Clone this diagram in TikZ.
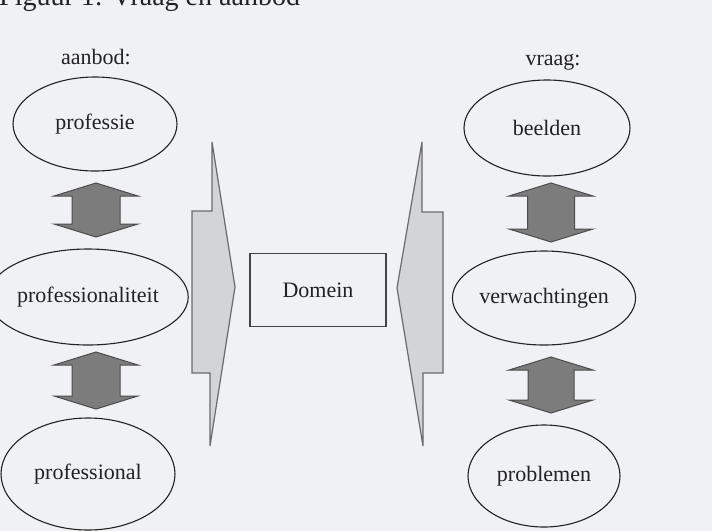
\documentclass[tikz,border=0pt]{standalone}
\usepackage{fontspec}
\setmainfont{Liberation Serif}
\usetikzlibrary{shapes.geometric}

\definecolor{paper}{HTML}{F0F1F4}
\definecolor{ink}{HTML}{222222}
\definecolor{darkfill}{HTML}{7C7C7C}
\definecolor{darkedge}{HTML}{4C4C4C}
\definecolor{lightfill}{HTML}{D3D4D6}
\definecolor{lightedge}{HTML}{6A6A6A}

% vertical double-headed block arrow: centre x, top tip y, bottom tip y, half shaft width
\newcommand\dblarrow[4]{%
  \filldraw[dblarr] (#1,#2) -- (#1+42,#2+13) -- (#1+#4,#2+13) -- (#1+#4,#3-13)
    -- (#1+42,#3-13) -- (#1,#3) -- (#1-42,#3-13) -- (#1-#4,#3-13)
    -- (#1-#4,#2+13) -- (#1-42,#2+13) -- cycle;}

\begin{document}
\begin{tikzpicture}[x=1pt,y=-1pt,
  lbl/.style={font=\fontsize{22}{26}\selectfont, text=ink},
  oval/.style={ellipse, draw=ink, line width=1.1pt, inner sep=0pt, lbl},
  dblarr/.style={fill=darkfill, draw=darkedge, line width=1pt, line join=miter},
  spike/.style={fill=lightfill, draw=lightedge, line width=1.2pt, line join=miter},
  domainbox/.style={rectangle, draw=ink!85, line width=1.1pt,
    minimum width=136pt, minimum height=73pt, lbl}]

\fill[paper] (0,0) rectangle (712,531);
\useasboundingbox (0,0) rectangle (712,531);

% caption, cut off by the top edge
\node[anchor=base west, font=\fontsize{28}{32}\selectfont, text=ink, inner sep=0pt]
  (caption) at (-1,5) {Figuur 1: Vraag en aanbod};

% column headings
\node[lbl] (aanbod) at (96,57) {aanbod:};
\node[lbl] (vraag) at (553,62) {vraag:};

% supply side
\node[oval, minimum width=164pt, minimum height=94pt] (professie) at (95,124) {professie};
\node[oval, minimum width=174pt, minimum height=96pt] (professionaliteit) at (88,297) {professionaliteit};
\node[oval, minimum width=174pt, minimum height=112pt] (professional) at (88,474) {professional};

% demand side
\node[oval, minimum width=166pt, minimum height=96pt] (beelden) at (547,128) {beelden};
\node[oval, minimum width=152pt, minimum height=94pt] (verwachtingen) at (544,298) {verwachtingen};
\node[oval, minimum width=152pt, minimum height=102pt] (problemen) at (544,476) {problemen};

% double arrows between the ovals
\dblarrow{96}{183}{237}{24}
\dblarrow{96}{352}{409}{24}
\dblarrow{551}{183}{242}{23.5}
\dblarrow{551}{357}{413}{23}

% the two pointed bars flanking the domain
\filldraw[spike] (212,142) -- (235,287) -- (210,446) -- (210,373) -- (192,373)
  -- (192,211) -- (212,211) -- cycle;
\filldraw[spike] (422,142) -- (397,288) -- (423,446) -- (423,373) -- (443,373)
  -- (443,212) -- (422,212) -- cycle;

% domain
\node[domainbox] (domein) at (318,290) {Domein};

\end{tikzpicture}
\end{document}
